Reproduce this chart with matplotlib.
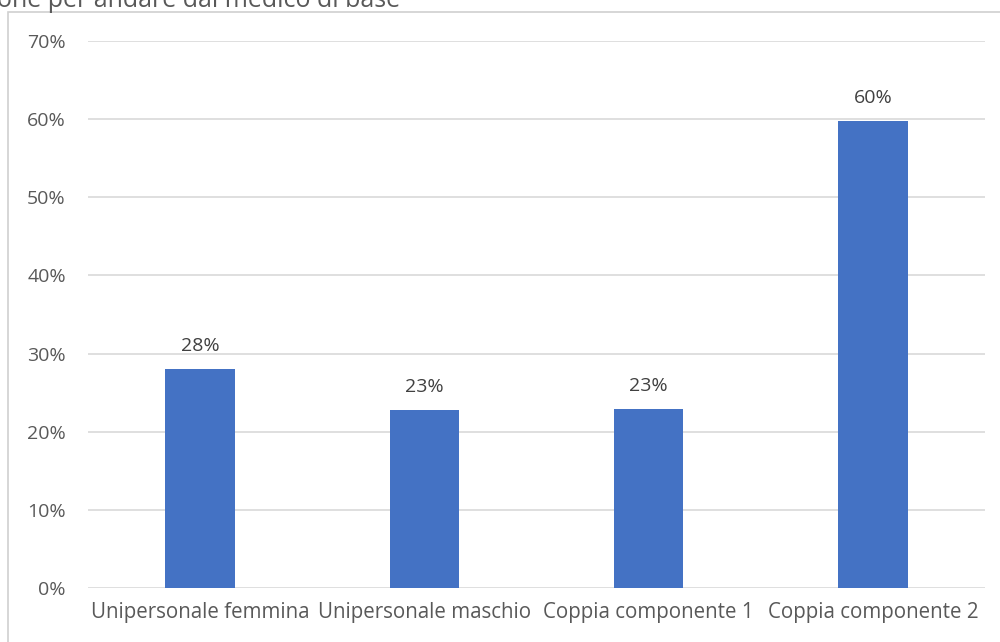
import matplotlib.pyplot as plt
from matplotlib.patches import Rectangle

categories = ['Unipersonale femmina', 'Unipersonale maschio',
              'Coppia componente 1', 'Coppia componente 2']
values = [28.0, 22.8, 22.9, 59.7]
labels = ['28%', '23%', '23%', '60%']
yticks = [0, 10, 20, 30, 40, 50, 60, 70]
title = 'one per andare dal medico di base'

plt.rcParams['font.family'] = ['Open Sans', 'DejaVu Sans']

fig = plt.figure(figsize=(10, 6.42), dpi=100)
ax = fig.add_axes([0.088, 1 - 588 / 642, 0.897, (588 - 41) / 642])

x = range(len(categories))
bars = ax.bar(x, values, width=0.31, color='#4472C4', zorder=3)
for b, lab in zip(bars, labels):
    ax.text(b.get_x() + b.get_width() / 2, b.get_height() + 1.8, lab,
            ha='center', va='bottom', fontsize=14, color='#404040')

ax.set_xlim(-0.5, 3.5)
ax.set_ylim(0, 70)
ax.set_yticks(yticks)
ax.set_yticklabels([f'{t}%' for t in yticks])
ax.set_xticks(list(x))
ax.set_xticklabels(categories)
ax.tick_params(axis='both', length=0, labelsize=14, colors='#595959')
ax.tick_params(axis='x', labelsize=14.8, pad=10)
ax.tick_params(axis='y', pad=16)
ax.grid(axis='y', color='#d9d9d9', linewidth=1.2, zorder=0)
for s in ax.spines.values():
    s.set_visible(False)

# chart border, cropped by the image edges
fig.patches.append(Rectangle((8 / 1000, -0.1), 1.2, 1 - 12 / 642 + 0.1,
                             transform=fig.transFigure, fill=False,
                             edgecolor='#d0d0d0', linewidth=1.2))
fig.text(-0.003, 1 - 7 / 642, title, fontsize=18, color='#595959',
         ha='left', va='baseline')

fig.savefig('out.png', dpi=100)
